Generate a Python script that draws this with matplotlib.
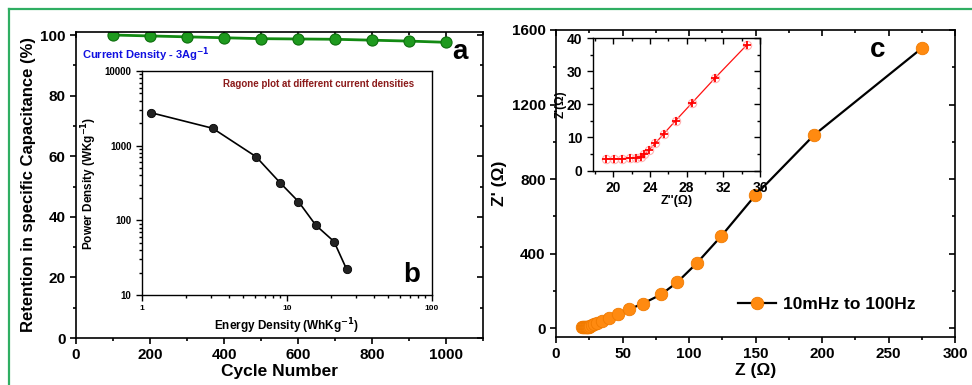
#!/usr/bin/env python
'''
retention / ragone / nyquist panels
'''
import matplotlib
matplotlib.use('Agg')
import matplotlib.pyplot as plt
from matplotlib.lines import Line2D
from matplotlib.ticker import MultipleLocator, LogLocator, NullFormatter, FixedLocator

# panel a : capacitance retention vs cycle
cycles = [100, 200, 300, 400, 500, 600, 700, 800, 900, 1000]
retention = [100.0, 99.7, 99.4, 99.1, 98.8, 98.7, 98.6, 98.3, 98.0, 97.6]

# panel b : ragone plot
energy = [1.15, 3.07, 6.11, 9.0, 12.0, 15.8, 21.1, 25.8]
power = [2767, 1710, 713, 316, 178, 86, 52, 22]

# panel c : nyquist, low region is also the inset
z_re = [19.2, 20.1, 21.0, 21.8, 22.5, 23.0, 23.4, 23.9, 24.6, 25.5, 26.8, 28.6, 31.1, 34.6,
        40.1, 46.4, 54.7, 65.2, 79.2, 91.2, 105.8, 124.3, 149.9, 194.0, 275.0]
z_im = [3.5, 3.6, 3.6, 3.8, 3.8, 4.2, 4.9, 6.25, 8.3, 11.1, 15.1, 20.5, 28.0, 38.1,
        56, 74, 100, 131, 181, 246, 348, 494, 713, 1036, 1502]
n_inset = 14

W, H = 972, 385
plt.rcParams['font.family'] = ['Liberation Sans', 'DejaVu Sans']
plt.rcParams['font.weight'] = 'bold'
plt.rcParams['axes.labelweight'] = 'bold'


def box(l, t, r, b):
    return [l / W, (H - b) / H, (r - l) / W, (b - t) / H]


def style(ax, size, lw=1.2, log=False):
    for s in ax.spines.values():
        s.set_linewidth(lw)
    ax.tick_params(which='both', direction='out', top=False, right=False,
                   labelsize=size, width=lw)
    ax.tick_params(which='major', length=4)
    ax.tick_params(which='minor', length=2.5)
    for lab in ax.get_xticklabels() + ax.get_yticklabels():
        lab.set_fontweight('bold')
    # inward ticks on top and right
    if log:
        return
    sx = ax.secondary_xaxis('top')
    sy = ax.secondary_yaxis('right')
    sx.set_xticks(ax.get_xticks())
    sy.set_yticks(ax.get_yticks())
    sx.xaxis.set_minor_locator(ax.xaxis.get_minor_locator())
    sy.yaxis.set_minor_locator(ax.yaxis.get_minor_locator())
    for sa in (sx, sy):
        sa.tick_params(which='both', direction='in', labeltop=False, labelright=False,
                       width=lw)
        sa.tick_params(which='major', length=4)
        sa.tick_params(which='minor', length=2.5)
    sx.spines['top'].set_visible(False)
    sy.spines['right'].set_visible(False)


fig = plt.figure(figsize=(W / 100, H / 100), dpi=100)

# green frame
green = '#2fae62'
fig.add_artist(Line2D([9 / W, 1.0], [1 - 9 / H, 1 - 9 / H], color=green, lw=1.6))
fig.add_artist(Line2D([9 / W, 9 / W], [1 - 9 / H, 0.0], color=green, lw=1.6))

# ---------- a
axa = fig.add_axes(box(76, 32, 483, 338))
axa.plot(cycles, retention, '-', color='#138a13', lw=2.0, marker='o', ms=8,
         mfc='#1e9a1e', mec='#0d6e0d', mew=0.8)
axa.set_xlim(0, 1100)
axa.set_ylim(0, 101)
axa.set_xticks([0, 200, 400, 600, 800, 1000])
axa.set_yticks([0, 20, 40, 60, 80, 100])
axa.xaxis.set_minor_locator(MultipleLocator(100))
axa.yaxis.set_minor_locator(MultipleLocator(10))
axa.set_xlabel('Cycle Number', fontsize=12.5, labelpad=1)
axa.set_ylabel('Retention in specific Capacitance (%)', fontsize=12, labelpad=3)
style(axa, 11)
axa.text(82 / W, 1 - 55 / H, 'Current Density - 3Ag$^{\\mathbf{-1}}$', transform=fig.transFigure,
         color='#1010e0', fontsize=8, fontweight='bold', va='center')
axa.text(460 / W, 1 - 52 / H, 'a', transform=fig.transFigure, fontsize=20,
         fontweight='bold', ha='center', va='center')

# ---------- b
axb = fig.add_axes(box(142, 71, 432, 295))
axb.plot(energy, power, '-', color='k', lw=1.2, marker='o', ms=6,
         mfc='#222222', mec='k', mew=0.6)
axb.set_xscale('log')
axb.set_yscale('log')
axb.set_xlim(1, 100)
axb.set_ylim(10, 10000)
axb.xaxis.set_major_locator(FixedLocator([1, 10, 100]))
axb.yaxis.set_major_locator(FixedLocator([10, 100, 1000, 10000]))
axb.set_xticklabels(['1', '10', '100'])
axb.set_yticklabels(['10', '100', '1000', '10000'])
axb.xaxis.set_minor_locator(LogLocator(base=10, subs=range(2, 10)))
axb.yaxis.set_minor_locator(LogLocator(base=10, subs=range(2, 10)))
axb.xaxis.set_minor_formatter(NullFormatter())
axb.yaxis.set_minor_formatter(NullFormatter())
axb.set_xlabel('Energy Density (WhKg$^{\\mathbf{-1}}$)', fontsize=8.5, labelpad=3)
axb.set_ylabel('Power Density (WKg$^{\\mathbf{-1}}$)', fontsize=8.5, labelpad=4)
style(axb, 7, lw=1.0, log=True)
axb.tick_params(axis='x', labelsize=6)
axb.text(0.94, 0.94, 'Ragone plot at different current densities', transform=axb.transAxes,
         color='#8b1a1a', fontsize=7, fontweight='bold', ha='right', va='center')
axb.text(0.93, 0.09, 'b', transform=axb.transAxes, fontsize=20, fontweight='bold',
         ha='center', va='center')

# ---------- c
axc = fig.add_axes(box(556, 30, 955, 337))
axc.plot(z_re, z_im, '-', color='k', lw=1.6, marker='o', ms=9,
         mfc='#ff8a10', mec='#f07a00', mew=0.6, label='10mHz to 100Hz')
axc.set_xlim(0, 300)
axc.set_ylim(-48, 1600)
axc.set_xticks([0, 50, 100, 150, 200, 250, 300])
axc.set_yticks([0, 400, 800, 1200, 1600])
axc.xaxis.set_minor_locator(MultipleLocator(25))
axc.yaxis.set_minor_locator(MultipleLocator(200))
axc.set_xlabel('Z (\u03a9)', fontsize=12.5, labelpad=1)
axc.set_ylabel("Z' (\u03a9)", fontsize=12.5, labelpad=3)
style(axc, 11)
axc.legend(loc='lower right', bbox_to_anchor=(0.94, 0.03), frameon=False,
           fontsize=12.5, handlelength=2.2, handletextpad=0.4)
axc.text(878 / W, 1 - 50 / H, 'c', transform=fig.transFigure, fontsize=20,
         fontweight='bold', ha='center', va='center')

# ---------- c inset
axi = fig.add_axes(box(592.7, 38.3, 760, 170.5))
axi.plot(z_re[:n_inset], z_im[:n_inset], '-', color='#ff1010', lw=0.9)
axi.plot(z_re[:n_inset], z_im[:n_inset], 'o', ms=6, mfc='none', mec='#ffb0b0', mew=0.8)
axi.plot(z_re[:n_inset], z_im[:n_inset], '+', ms=6, color='#ff0000', mew=1.3)
axi.set_xlim(17.75, 36)
axi.set_ylim(0, 40)
axi.set_xticks([20, 24, 28, 32, 36])
axi.set_yticks([0, 10, 20, 30, 40])
axi.xaxis.set_minor_locator(MultipleLocator(2))
axi.yaxis.set_minor_locator(MultipleLocator(5))
axi.set_xlabel("Z''(\u03a9)", fontsize=9, labelpad=0)
axi.set_ylabel("Z'(\u03a9)", fontsize=8.5, labelpad=0)
style(axi, 10, lw=1.0)

fig.savefig('out.png', dpi=100)
